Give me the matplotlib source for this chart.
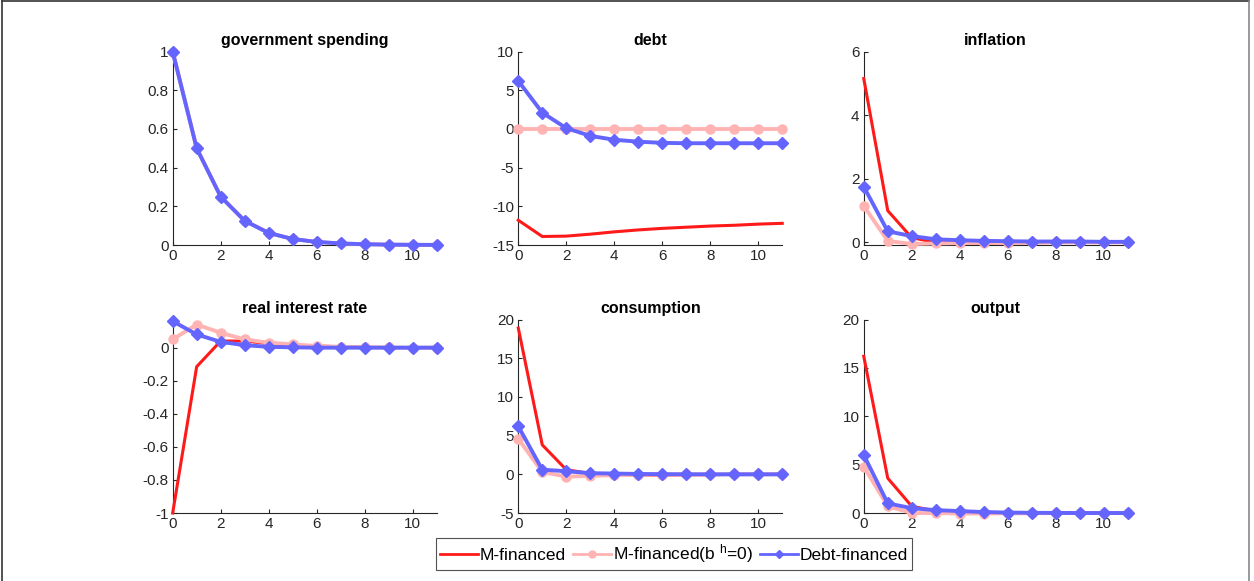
import matplotlib
matplotlib.use('Agg')
import matplotlib.pyplot as plt
from matplotlib.lines import Line2D

plt.rcParams['font.family'] = ['Liberation Sans', 'DejaVu Sans']
plt.rcParams['mathtext.fontset'] = 'custom'
plt.rcParams['mathtext.rm'] = 'Liberation Sans'
plt.rcParams['mathtext.it'] = 'Liberation Sans'

RED = '#FF1A1A'
PINK = '#FFB3B3'
BLUE = '#6464FF'
TICK = '#262626'

periods = list(range(12))

titles = ['government spending', 'debt', 'inflation',
          'real interest rate', 'consumption', 'output']

# M-financed
m_fin = [
    [1.0, 0.5, 0.25, 0.125, 0.0625, 0.031, 0.016, 0.008, 0.004, 0.002, 0.001, 0.0005],
    [-11.8, -13.9, -13.85, -13.6, -13.3, -13.05, -12.85, -12.7, -12.55, -12.45, -12.3, -12.2],
    [5.15, 1.0, 0.15, 0.0, -0.02, -0.02, -0.01, -0.01, 0.0, 0.0, 0.0, 0.0],
    [-1.0, -0.115, 0.04, 0.04, 0.025, 0.015, 0.01, 0.005, 0.002, 0.001, 0.0, 0.0],
    [18.9, 3.8, 0.6, 0.1, 0.0, -0.1, -0.1, -0.05, -0.05, 0.0, 0.0, 0.0],
    [16.2, 3.6, 0.7, 0.2, 0.1, 0.0, -0.05, -0.05, 0.0, 0.0, 0.0, 0.0],
]
# M-financed (b^h = 0)
m_fin_b0 = [
    [1.0, 0.5, 0.25, 0.125, 0.0625, 0.031, 0.016, 0.008, 0.004, 0.002, 0.001, 0.0005],
    [0.0] * 12,
    [1.15, 0.05, -0.05, -0.03, -0.02, -0.01, -0.01, 0.0, 0.0, 0.0, 0.0, 0.0],
    [0.05, 0.14, 0.09, 0.05, 0.03, 0.02, 0.01, 0.005, 0.002, 0.001, 0.0, 0.0],
    [4.6, 0.3, -0.3, -0.2, -0.1, -0.05, -0.03, -0.02, 0.0, 0.0, 0.0, 0.0],
    [4.8, 0.7, 0.0, 0.0, -0.05, -0.05, -0.03, -0.02, 0.0, 0.0, 0.0, 0.0],
]
# Debt-financed
debt_fin = [
    [1.0, 0.5, 0.25, 0.125, 0.0625, 0.031, 0.016, 0.008, 0.004, 0.002, 0.001, 0.0005],
    [6.2, 2.1, 0.1, -0.9, -1.4, -1.65, -1.8, -1.85, -1.85, -1.85, -1.85, -1.85],
    [1.75, 0.35, 0.2, 0.1, 0.07, 0.05, 0.04, 0.03, 0.03, 0.03, 0.02, 0.02],
    [0.16, 0.08, 0.035, 0.015, 0.005, 0.002, 0.0, 0.0, 0.0, 0.0, 0.0, 0.0],
    [6.2, 0.6, 0.4, 0.15, 0.1, 0.05, 0.02, 0.01, 0.0, 0.0, 0.0, 0.0],
    [6.0, 1.0, 0.5, 0.3, 0.2, 0.1, 0.05, 0.02, 0.01, 0.0, 0.0, 0.0],
]

ylims = [(0, 1), (-15, 10), (-0.08, 6), (-1, 0.17), (-5, 20), (0, 20)]
yticks = [
    [0, 0.2, 0.4, 0.6, 0.8, 1],
    [-15, -10, -5, 0, 5, 10],
    [0, 2, 4, 6],
    [-1, -0.8, -0.6, -0.4, -0.2, 0],
    [-5, 0, 5, 10, 15, 20],
    [0, 5, 10, 15, 20],
]
ytick_labels = [
    ['0', '0.2', '0.4', '0.6', '0.8', '1'],
    ['-15', '-10', '-5', '0', '5', '10'],
    ['0', '2', '4', '6'],
    ['-1', '-0.8', '-0.6', '-0.4', '-0.2', '0'],
    ['-5', '0', '5', '10', '15', '20'],
    ['0', '5', '10', '15', '20'],
]

fig = plt.figure(figsize=(12.54, 5.81), dpi=100)
fig.patch.set_facecolor('white')

lefts = [0.1377, 0.4133, 0.6888]
bottoms = [0.5783, 0.117]
w, h = 0.2105, 0.333

for k in range(6):
    r, c = divmod(k, 3)
    ax = fig.add_axes([lefts[c], bottoms[r], w, h])
    ax.plot(periods, m_fin[k], color=RED, lw=2.2, zorder=3, clip_on=False)
    ax.plot(periods, m_fin_b0[k], color=PINK, lw=2.8, marker='o',
            ms=6.5, zorder=4, clip_on=False)
    ax.plot(periods, debt_fin[k], color=BLUE, lw=2.8, marker='D',
            ms=6, zorder=5, clip_on=False)
    ax.set_xlim(0, 11)
    ax.set_ylim(*ylims[k])
    ax.set_xticks([0, 2, 4, 6, 8, 10])
    ax.set_yticks(yticks[k])
    ax.set_yticklabels(ytick_labels[k])
    ax.set_title(titles[k], fontsize=11.5, fontweight='bold', pad=5)
    for s in ['top', 'right']:
        ax.spines[s].set_visible(False)
    for s in ['left', 'bottom']:
        ax.spines[s].set_color(TICK)
        ax.spines[s].set_linewidth(0.8)
    ax.tick_params(direction='in', length=3, width=0.8, colors=TICK,
                   labelsize=11, pad=3)
    for sp in ax.spines.values():
        sp.set_zorder(2)

handles = [
    Line2D([], [], color=RED, lw=2),
    Line2D([], [], color=PINK, lw=2, marker='o', ms=5),
    Line2D([], [], color=BLUE, lw=2, marker='D', ms=4.5),
]
labels = ['M-financed', 'M-financed(b $^{\\rm h}$=0)', 'Debt-financed']
leg = fig.legend(handles, labels, loc='center', bbox_to_anchor=(0.5375, 0.0465),
                 ncol=3, fontsize=12.5, frameon=True, fancybox=False,
                 handlelength=2.2, handletextpad=0.1, columnspacing=0.4,
                 borderpad=0.25, markerfirst=True)
leg.get_frame().set_edgecolor('#262626')
leg.get_frame().set_linewidth(0.8)

# thin frame around the figure (top, left, right)
fig.add_artist(Line2D([0.0016, 0.0016], [0, 0.999], color='#333333', lw=1.2,
                      transform=fig.transFigure))
fig.add_artist(Line2D([0.0016, 0.996], [0.998, 0.998], color='#333333', lw=1.2,
                      transform=fig.transFigure))
fig.add_artist(Line2D([0.996, 0.996], [0, 0.998], color='#888888', lw=1.2,
                      transform=fig.transFigure))

fig.savefig('out.png', dpi=100, facecolor='white')
